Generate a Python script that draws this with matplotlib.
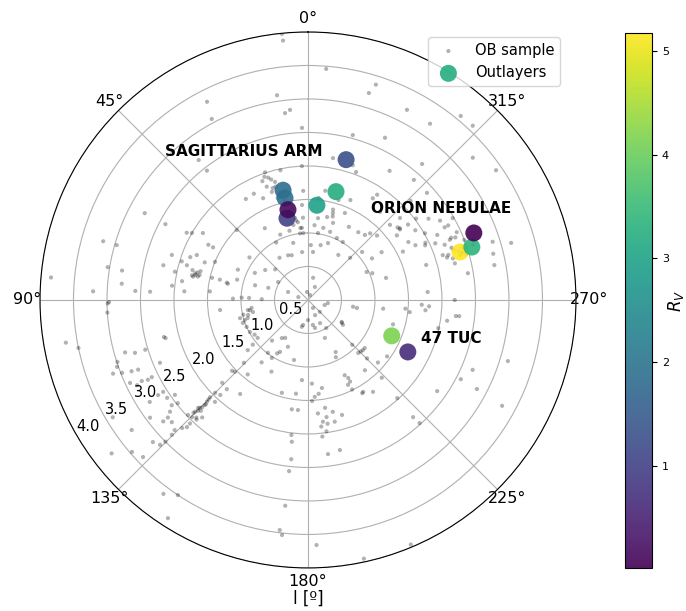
import numpy as np
import matplotlib
matplotlib.use("Agg")
import matplotlib.pyplot as plt

# ---------------- data ----------------
# OB sample: galactic longitude l [deg] and radial distance r
ob_l = [5.6, 5.5, 8.6, 27, 7, 5.4, 28, 2, 38, 38, 2.6,
        18.6, 18, 15.6, 12, 18.5, 16.5, 23.8, 14.7, 9, 7.4, 11, 6,
        17, 19.5, 16, 14, 20, 13, 10, 12, 8.5, 15, 21, 17.5,
        31.6, 27, 3.6, 4.8, 6.8, 29, 14.5, 23, 7, 34, 45.5,
        61, 60, 57.5, 62, 62, 74, 74, 85, 87.7, 81, 85, 80.7, 87,
        76.5, 71.7, 78, 73, 74, 70, 78, 76.7, 78, 75, 68, 81.5, 84, 70, 77, 67.7, 61, 61,
        77.5, 76, 78.5, 77, 75.5,
        77, 78, 78.5, 74, 66.6, 74.5, 63, 55, 73, 59, 85, 87, 54, 47, 20, 31, 15, 24, 68, 73,
        355.5, 342.5, 343.6, 332.5, 325.3, 320.3, 316.6, 344.8, 334.6, 350, 339.4, 341.6, 327.7,
        320, 310.8, 304.6, 318.6, 312, 2.5, 351, 343, 344, 344.5, 343.5, 337, 330.8, 342, 347,
        355, 348, 342, 335, 351.5, 4, 347, 340.6, 357, 354, 329, 326, 315, 323.4, 303, 295.5,
        347, 332, 7, 338,
        309, 308, 307, 303, 304, 301, 298, 298, 299.5, 294.5, 293, 293, 293.5, 296.7, 294,
        299.7, 296, 295, 297, 307.5, 300, 297, 286.5, 288.4, 287, 287.8, 286.4, 287.3, 288.7,
        286, 279.5, 284, 287.5, 285.7, 280.6, 284, 288.5, 273.8, 285.8, 312.5, 313, 306, 318.8,
        317, 311.7, 307, 314, 327.5, 326.7, 320.7, 337, 353, 354, 292.6, 303, 311.6, 3.5,
        287, 288, 286, 289, 290, 291, 292,
        90.6, 93.6, 100, 101.8, 108, 106, 109.3, 111.4, 110.7, 107, 107, 112, 112.3, 116.3, 113,
        105, 115, 116.5, 116, 116.5, 122.8, 122.4, 122.4, 124.8, 127.7, 125.5, 128.4, 129, 130,
        130, 131.9, 126.7, 132.5, 126.4, 133.6, 130.8, 121, 128,
        134.4, 134.8, 134.7, 134.3, 135.5, 136.4, 136.3, 135.3, 134.7, 134.5, 135.4, 135.2, 134.8,
        135, 137, 138, 135.5, 133.8, 137.6, 136, 135, 135.2, 134.9, 135.6, 134.6, 136.5,
        137.3, 134, 137.7, 133, 134.5, 144.2, 134.4, 141, 129.8, 129, 127, 123,
        99.5, 102.4, 102.8, 107.7, 106.7, 109.4, 113.7, 118.9, 105, 98, 100, 104,
        96.5, 89, 88, 89, 138.5, 142.8, 145.6, 149, 150, 151.7, 143.4, 148, 156.8, 166.9, 172.7,
        164.3, 171.6, 174.8, 175.7, 182.7, 182.3, 173, 173.5, 174, 173.7, 173.7, 173, 173.7,
        143.3, 146.3, 147.3, 167, 91, 86, 104.4, 88, 153, 169,
        270, 263.4, 264.9, 263.2, 267.6, 265, 267, 261.5, 263.8, 263.9, 254, 257.8, 224.6, 223.5,
        227.5, 229.7, 225.7, 225.3, 228.2, 234.5, 208, 206, 204, 234.6, 237, 261.5, 260.7, 219,
        206, 207.3, 207.3, 205.3, 206.2, 210.2, 211, 215.3, 223.5, 222.3, 221.9, 222.2, 186.5,
        184, 189, 185, 189, 189, 192.5, 187, 189, 186, 188, 186, 192.4, 196.5, 187.4, 192, 182,
        192.2, 202.8, 234.8, 242.6, 247, 242.2, 253, 241.4, 212, 205, 225, 253, 261, 180, 191,
        194, 207.6, 213, 236]
ob_r = [3.99, 3.89, 3.09, 3.32, 2.81, 2.85, 3.06, 2.57, 2.65, 2.45, 2.0,
        2.01, 1.92, 1.83, 1.98, 1.70, 1.59, 1.66, 1.47, 1.24, 1.17, 1.14, 1.08,
        1.88, 1.95, 1.76, 1.65, 1.80, 1.52, 1.30, 1.35, 1.20, 1.62, 1.90, 1.75,
        1.77, 1.78, 1.42, 1.08, 1.0, 0.98, 0.88, 1.06, 0.72, 0.76, 1.49,
        2.07, 2.0, 1.86, 2.41, 2.76, 3.18, 2.97, 3.85, 3.21, 2.81, 2.79, 3.03, 2.58,
        2.22, 2.14, 2.03, 1.97, 1.88, 1.87, 1.77, 1.73, 1.68, 1.66, 1.79, 1.90, 2.04, 1.64, 1.47, 1.50, 1.70, 1.62,
        1.72, 1.70, 1.75, 1.66, 1.78,
        1.35, 1.24, 1.22, 1.10, 1.14, 0.82, 0.89, 0.78, 0.62, 0.52, 1.47, 2.36, 1.08, 0.67, 0.71, 1.25, 1.07, 0.73, 0.32, 0.15,
        3.46, 3.37, 3.22, 3.2, 3.2, 3.57, 3.58, 2.55, 2.68, 2.15, 2.04, 2.12, 2.28,
        2.65, 3.25, 3.41, 2.39, 2.39, 1.63, 1.65, 1.56, 1.35, 1.40, 1.30, 1.62, 1.25, 1.21, 1.27,
        1.12, 1.10, 1.07, 1.02, 1.01, 1.0, 0.84, 0.9, 0.82, 0.72, 1.01, 0.81, 0.89, 1.26, 1.31, 0.97,
        0.34, 0.22, 0.12, 0.08,
        1.72, 1.74, 1.87, 1.91, 2.17, 2.30, 2.31, 2.37, 2.48, 2.44, 2.39, 2.30, 2.33, 2.16, 2.08,
        2.01, 1.95, 1.93, 1.80, 1.73, 1.73, 1.59, 1.84, 2.12, 2.17, 2.20, 2.37, 2.42, 2.43,
        2.25, 2.42, 2.26, 2.89, 3.15, 2.83, 2.85, 2.60, 1.79, 1.21, 1.66, 1.41, 1.64, 1.29,
        1.36, 1.84, 2.02, 2.13, 1.80, 1.88, 1.70, 1.41, 1.23, 1.53, 1.04, 1.14, 1.08, 1.23,
        2.40, 2.36, 2.45, 2.30, 2.28, 2.50, 2.20,
        2.97, 3.0, 3.67, 3.5, 2.99, 2.84, 3.02, 2.98, 3.11, 2.7, 2.54, 2.84, 2.74, 2.6, 2.4,
        2.2, 2.93, 2.85, 2.76, 2.67, 2.81, 2.65, 2.56, 2.56, 2.57, 2.44, 2.48, 2.65, 2.73,
        2.82, 2.73, 2.94, 3.14, 3.27, 3.4, 3.47, 3.4, 3.72,
        3.09, 3.0, 2.86, 2.78, 2.68, 2.62, 2.55, 2.46, 2.37, 2.3, 2.25, 2.14, 2.06,
        1.96, 2.44, 2.36, 2.2, 2.48, 2.06, 2.3, 2.1, 2.33, 2.28, 2.18, 2.4, 2.42,
        1.93, 1.78, 1.8, 1.55, 1.53, 1.73, 1.34, 1.43, 1.17, 1.06, 0.94, 0.95,
        0.91, 0.84, 0.99, 0.99, 0.94, 1.03, 1.0, 0.99, 1.05, 0.85, 0.88, 0.92,
        1.32, 1.12, 0.99, 0.69, 0.81, 0.99, 0.69, 0.66, 0.92, 0.88, 1.16, 1.02, 0.76, 0.92, 1.41,
        1.44, 1.65, 1.65, 1.2, 1.25, 1.51, 2.03, 2.13, 2.39, 2.57, 3.09, 3.46, 3.53,
        3.61, 3.5, 3.87, 0.41, 2.99, 1.85, 2.22, 0.88, 1.2, 0.38,
        2.19, 1.13, 1.46, 1.53, 1.70, 1.76, 1.81, 2.1, 2.22, 2.27, 1.32, 1.99, 0.94, 1.09,
        1.11, 1.11, 1.10, 1.24, 1.40, 1.45, 0.88, 0.95, 0.62, 0.64, 0.60, 0.68, 0.74, 1.35,
        1.25, 1.31, 1.37, 1.40, 1.49, 1.61, 1.6, 1.68, 1.6, 1.98, 2.35, 2.48, 1.41,
        1.45, 1.33, 1.7, 1.63, 1.77, 1.71, 1.83, 1.87, 1.9, 1.98, 2.05, 1.86, 1.79, 2.32, 2.29, 3.66,
        3.95, 3.96, 2.36, 2.57, 2.67, 2.85, 3.12, 3.3, 0.14, 0.25, 0.25, 0.26, 0.3, 0.3, 0.38,
        0.43, 0.39, 0.5, 0.61]

# Outliers: l [deg], r, R_V
out_l = [345.5, 344.8, 12.8, 12.7, 354.6, 14.4, 12.5, 287.5, 287.9, 292.0, 246.8, 242.5]
out_r = [1.67, 2.17, 1.68, 1.56, 1.42, 1.26, 1.38, 2.38, 2.57, 2.67, 1.36, 1.68]
out_rv = [3.2, 1.3, 1.85, 1.9, 2.95, 1.05, 0.15, 5.17, 3.35, 0.02, 4.15, 0.65]

r_ticks = [0.5, 1.0, 1.5, 2.0, 2.5, 3.0, 3.5, 4.0]
annotations = [("SAGITTARIUS ARM", 23.4, 2.41), ("ORION NEBULAE", 304.6, 2.41), ("47 TUC", 255.1, 2.22)]

# ---------------- figure ----------------
fig = plt.figure(figsize=(6.86, 6.11), dpi=100)
ax = fig.add_axes([0.0583, 0.0704, 0.7813, 0.8773], projection="polar")
ax.set_theta_zero_location("N")
ax.set_theta_direction(1)

ax.scatter(np.deg2rad(ob_l), ob_r, s=9, c="k", alpha=0.3, edgecolors="none",
           label="OB sample", zorder=2)
sc = ax.scatter(np.deg2rad(out_l), out_r, s=150, c=out_rv, cmap="viridis",
                alpha=0.9, edgecolors="none", label="Outlayers", zorder=3)

ax.set_ylim(0, 4.0)
ax.set_rticks(r_ticks)
ax.set_rlabel_position(120)
ax.tick_params(axis="x", labelsize=11.5, pad=-1)
ax.tick_params(axis="y", labelsize=10.5)
ax.grid(True, color="#b0b0b0", linewidth=0.8)

for txt, l, r in annotations:
    ax.text(np.deg2rad(l), r, txt, fontsize=11, fontweight="bold",
            ha="center", va="center", zorder=5)

ax.set_xlabel("l [º]", fontsize=12, labelpad=1)

ax.legend(loc="upper right", bbox_to_anchor=(0.8163, 0.9394),
          bbox_transform=fig.transFigure, fontsize=10.5, borderaxespad=0)

cax = fig.add_axes([0.911, 0.0704, 0.0394, 0.8756])
cb = fig.colorbar(sc, cax=cax)
cb.set_alpha(1)
cb.ax.tick_params(labelsize=8)
cb.set_label("$R_V$", fontsize=12, labelpad=-2)

fig.savefig("out.png", dpi=100)
